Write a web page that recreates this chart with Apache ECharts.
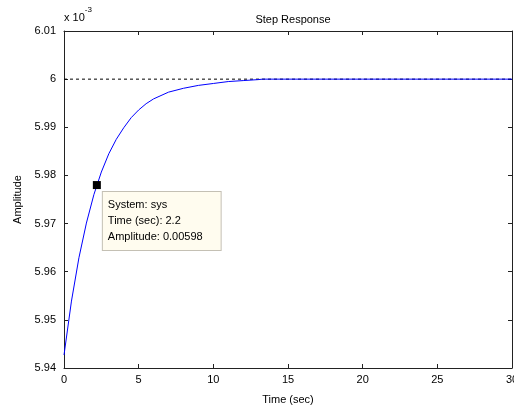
<!DOCTYPE html>
<html>
<head>
<meta charset="utf-8">
<script src="https://cdn.jsdelivr.net/npm/echarts@6/dist/echarts.min.js"></script>
<style>
  html, body { margin: 0; padding: 0; background: #fff; }
  #chart { width: 514px; height: 410px; }
</style>
</head>
<body>
<div id="chart"></div>
<script>
// step response, amplitude in units of 1e-3
var timeSec = [0, 0.5, 1, 1.5, 2, 2.5, 3, 3.5, 4, 4.5, 5, 5.5, 6, 7, 8, 9, 10, 11, 12, 13, 13.3, 20, 30];
var amplitude = [5.9427, 5.9539, 5.9629, 5.9701, 5.9760, 5.9807, 5.9845, 5.9875, 5.9899, 5.9920, 5.9936,
                 5.9949, 5.9959, 5.9973, 5.9981, 5.9987, 5.9991, 5.9995, 5.9997, 5.9999, 6.0, 6.0, 6.0];
var finalValue = 6.0;
var tipTime = 2.2;
var tipAmp = 5.978;
var xTicks = [0, 5, 10, 15, 20, 25, 30];
var yTicks = [5.94, 5.95, 5.96, 5.97, 5.98, 5.99, 6.0, 6.01];

var font = 'Liberation Sans, Arial, sans-serif';

var chart = echarts.init(document.getElementById('chart'));

// 坐标轴边框 (上下左右都有刻度)
var axisCommon = {
    axisLine: { show: true, onZero: false, lineStyle: { color: '#222', width: 1 } },
    axisTick: { show: true, inside: true, length: 4, lineStyle: { color: '#222' } },
    splitLine: { show: false }
};

var option = {
    animation: false,
    backgroundColor: '#fff',
    title: {
        text: 'Step Response',
        left: 288, top: 9, textAlign: 'center',
        textStyle: { fontFamily: font, fontSize: 11, fontWeight: 'normal', color: '#000' }
    },
    grid: { left: 64, right: 2, top: 31, bottom: 42, containLabel: false, outerBoundsMode: 'none' },
    xAxis: [
        Object.assign({
            type: 'value', min: xTicks[0], max: xTicks[xTicks.length - 1], interval: 5,
            name: 'Time (sec)', nameLocation: 'middle', nameGap: 26,
            nameTextStyle: { fontFamily: font, fontSize: 11, color: '#000' },
            axisLabel: { fontFamily: font, fontSize: 11, color: '#000', margin: 6 }
        }, axisCommon),
        Object.assign({
            type: 'value', position: 'top', min: 0, max: 30, interval: 5,
            axisLabel: { show: false }
        }, axisCommon)
    ],
    yAxis: [
        Object.assign({
            type: 'value', min: yTicks[0], max: yTicks[yTicks.length - 1], interval: 0.01,
            name: 'Amplitude', nameLocation: 'middle', nameGap: 40,
            nameTextStyle: { fontFamily: font, fontSize: 11, color: '#000' },
            axisLabel: {
                fontFamily: font, fontSize: 11, color: '#000', margin: 8,
                formatter: function (v) { return String(parseFloat(v.toFixed(3))); }
            }
        }, axisCommon),
        Object.assign({
            type: 'value', position: 'right', min: 5.94, max: 6.01, interval: 0.01,
            axisLabel: { show: false }
        }, axisCommon)
    ],
    graphic: [{
        type: 'text', left: 64, top: 6,
        style: {
            text: '{a|x 10}{b|-3}',
            rich: {
                a: { fontFamily: font, fontSize: 11, fill: '#000', padding: [6, 0, 0, 0] },
                b: { fontFamily: font, fontSize: 8, fill: '#000', verticalAlign: 'top' }
            }
        }
    }],
    series: [
        {
            // 稳态值虚线
            type: 'line',
            data: [[0, finalValue], [30, finalValue]],
            symbol: 'none',
            lineStyle: { color: '#000', width: 1, type: [3, 3] },
            z: 1
        },
        {
            type: 'line',
            data: timeSec.map(function (t, i) { return [t, amplitude[i]]; }),
            smooth: false,
            symbol: 'none',
            lineStyle: { color: '#0000ff', width: 1 },
            z: 2
        },
        {
            // data tip
            type: 'scatter',
            data: [[tipTime, tipAmp]],
            symbol: 'rect',
            symbolSize: 8,
            itemStyle: { color: '#000', opacity: 1 },
            z: 5,
            label: {
                show: true,
                position: [10, 11],
                formatter: 'System: sys\nTime (sec): ' + tipTime + '\nAmplitude: ' + (tipAmp / 1000).toFixed(5),
                fontFamily: font, fontSize: 11, color: '#000',
                lineHeight: 16,
                align: 'left', verticalAlign: 'top',
                backgroundColor: '#fffcef',
                borderColor: '#c4c0b4', borderWidth: 1,
                padding: [5, 18, 5, 5]
            }
        }
    ]
};

chart.setOption(option);
</script>
</body>
</html>
